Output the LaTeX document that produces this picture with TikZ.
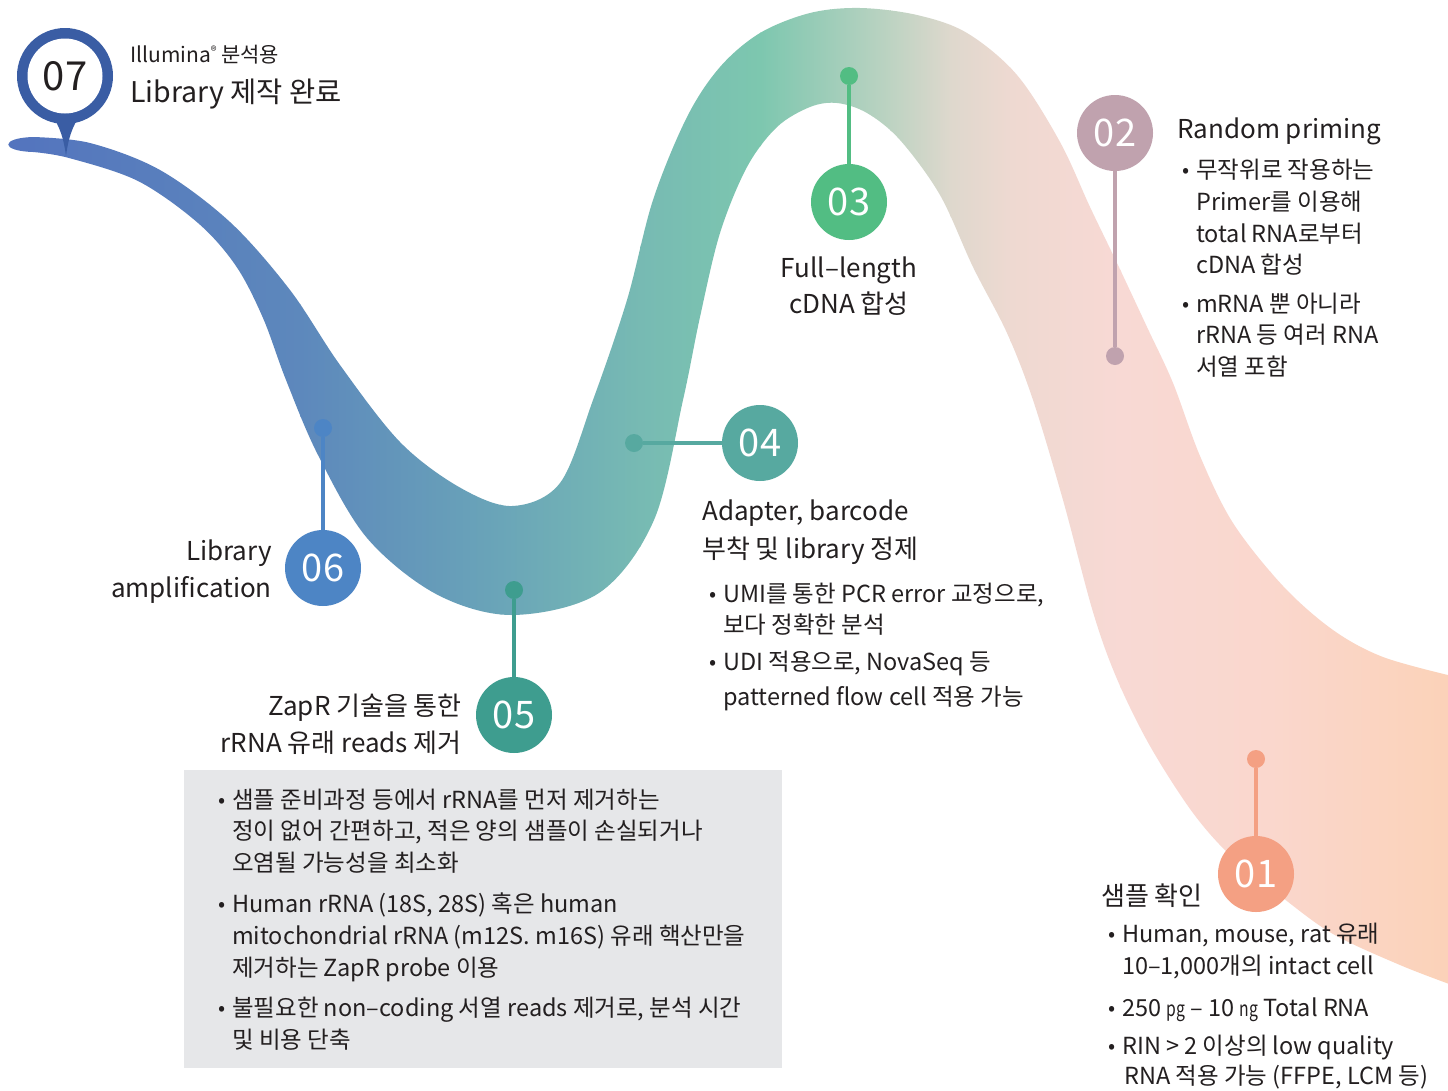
\documentclass[tikz,border=0pt]{standalone}
\usepackage{fontspec}
\setmainfont{Noto Sans CJK KR}
\definecolor{txt}{HTML}{231F20}
\definecolor{g0}{HTML}{5373BE}
\definecolor{g1}{HTML}{5D88BC}
\definecolor{g2}{HTML}{6AA5B8}
\definecolor{g3}{HTML}{77BAB3}
\definecolor{g4}{HTML}{7DC7AF}
\definecolor{g5}{HTML}{9FCDB9}
\definecolor{g6}{HTML}{BDD3C2}
\definecolor{g7}{HTML}{DED8CD}
\definecolor{g8}{HTML}{EED9D1}
\definecolor{g9}{HTML}{F8D9D4}
\definecolor{g10}{HTML}{FAD7CD}
\definecolor{g11}{HTML}{FBD2B8}
\definecolor{c07}{HTML}{3A5DA4}
\definecolor{c06}{HTML}{4D85C5}
\definecolor{c05}{HTML}{3E9D8F}
\definecolor{c04}{HTML}{57A9A0}
\definecolor{c03}{HTML}{52BD83}
\definecolor{c02}{HTML}{C0A2AE}
\definecolor{c01}{HTML}{F4A083}
\definecolor{boxgray}{HTML}{E6E7E9}
\newcommand{\bul}{\makebox[14pt][l]{\fontsize{21}{21}\selectfont\raisebox{0.5pt}{•}}}
\newcommand{\unitsm}[1]{\scalebox{0.75}[1]{\fontsize{21}{21}\selectfont #1}}
\begin{document}
\begin{tikzpicture}[x=1pt,y=-1pt,
  stepcircle/.style={circle, minimum size=76pt, inner sep=0pt, text=white, font=\fontsize{38}{38}\selectfont},
  stepdot/.style={circle, minimum size=18pt, inner sep=0pt},
  conn/.style={line width=3.5pt},
  head/.style={font=\fontsize{26}{30}\selectfont, text=txt, inner sep=0pt},
  body/.style={font=\fontsize{23.5}{27}\selectfont, text=txt, inner sep=0pt},
  small/.style={font=\fontsize{21}{24}\selectfont, text=txt, inner sep=0pt},
  big/.style={font=\fontsize{28.5}{32}\selectfont, text=txt, inner sep=0pt}]
\useasboundingbox (0,0) rectangle (1448,1090);
\fill[white] (0,0) rectangle (1448,1090);

% ribbon
\begin{scope}
\clip plot[smooth,tension=0.55] coordinates {(33,137) (90,143) (160,170) (230,222) (290,290) (340,365) (400,442) (459,487) (512,506) (560,483) (593,400) (627,300) (653,200) (687,117) (720,67) (760,33) (810,13) (860,8) (917,15) (967,33) (1017,75) (1060,142) (1090,207) (1117,263) (1147,327) (1173,383) (1200,456) (1233,523) (1283,586) (1333,630) (1383,657) (1452,676)}
 -- plot[smooth,tension=0.55] coordinates {(1452,985) (1400,965) (1333,934) (1283,898) (1233,858) (1193,813) (1150,746) (1117,679) (1093,612) (1063,500) (1033,400) (1007,333) (973,267) (940,195) (900,140) (867,113) (837,103) (810,107) (777,127) (747,167) (720,233) (700,317) (683,400) (654,520) (599,593) (512,615) (436,594) (367,538) (318,455) (286,380) (263,318) (236,266) (198,223) (138,181) (69,158) (33,152)}
 .. controls (0,151) and (0,138) .. (33,137) -- cycle;
\shade[left color=g0,right color=g1] (-2,0) rectangle (301,1090);
\shade[left color=g1,right color=g2] (300,0) rectangle (501,1090);
\shade[left color=g2,right color=g3] (500,0) rectangle (641,1090);
\shade[left color=g3,right color=g4] (640,0) rectangle (761,1090);
\shade[left color=g4,right color=g5] (760,0) rectangle (831,1090);
\shade[left color=g5,right color=g6] (830,0) rectangle (891,1090);
\shade[left color=g6,right color=g7] (890,0) rectangle (951,1090);
\shade[left color=g7,right color=g8] (950,0) rectangle (1011,1090);
\shade[left color=g8,right color=g9] (1010,0) rectangle (1121,1090);
\shade[left color=g9,right color=g10] (1120,0) rectangle (1271,1090);
\shade[left color=g10,right color=g11] (1270,0) rectangle (1452,1090);
\end{scope}

% pin 07
\fill[c07] (51,114) .. controls (60,126) and (64,140) .. (66,156) .. controls (68,140) and (72,126) .. (81,114) -- cycle;
\node[circle, fill=c07, minimum size=96pt, inner sep=0pt] (pin07) at (65,76) {};
\node[circle, fill=white, minimum size=75pt, inner sep=0pt, text=txt, font=\fontsize{40}{40}\selectfont] (s07) at (65,76) {07};

% steps
\node[stepdot, fill=c06] (d06) at (323,428) {};
\node[stepcircle, fill=c06] (s06) at (323,568) {06};
\draw[conn, c06] (d06) -- (s06);
\node[stepdot, fill=c05] (d05) at (514,590) {};
\node[stepcircle, fill=c05] (s05) at (514,715) {05};
\draw[conn, c05] (d05) -- (s05);
\node[stepdot, fill=c04] (d04) at (634,443) {};
\node[stepcircle, fill=c04] (s04) at (760,443) {04};
\draw[conn, c04] (d04) -- (s04);
\node[stepdot, fill=c03] (d03) at (849,76) {};
\node[stepcircle, fill=c03] (s03) at (849,202) {03};
\draw[conn, c03] (d03) -- (s03);
\node[stepcircle, fill=c02] (s02) at (1115,133) {02};
\node[stepdot, fill=c02] (d02) at (1115,356) {};
\draw[conn, c02] (s02) -- (d02);
\node[stepdot, fill=c01] (d01) at (1256,759) {};
\node[stepcircle, fill=c01] (s01) at (1256,874) {01};
\draw[conn, c01] (d01) -- (s01);

% 07 text
\node[small, anchor=base west] (t7a) at (130,62) {Illumina\raisebox{7pt}{\fontsize{12}{12}\selectfont ®} 분석용};
\node[big, anchor=base west] (t7b) at (130,102) {Library 제작 완료};

% 02 text
\node[head, anchor=base west] (t2h) at (1177,138) {Random priming};
\node[body, anchor=base west] (t2a) at (1182,178) {\bul 무작위로 작용하는};
\node[body, anchor=base west] (t2b) at (1196,210) {Primer를 이용해};
\node[body, anchor=base west] (t2c) at (1196,242) {total RNA로부터};
\node[body, anchor=base west] (t2d) at (1196,273) {cDNA 합성};
\node[body, anchor=base west] (t2e) at (1182,312) {\bul mRNA 뿐 아니라};
\node[body, anchor=base west] (t2f) at (1196,343) {rRNA 등 여러 RNA};
\node[body, anchor=base west] (t2g) at (1196,375) {서열 포함};

% 03 text
\node[head, anchor=base] (t3a) at (849,277) {Full–length};
\node[head, anchor=base] (t3b) at (849,313) {cDNA 합성};

% 04 text
\node[head, anchor=base west] (t4a) at (702,520) {Adapter, barcode};
\node[head, anchor=base west] (t4b) at (702,558) {부착 및 library 정제};
\node[body, anchor=base west] (t4c) at (709,602) {\bul UMI를 통한 PCR error 교정으로,};
\node[body, anchor=base west] (t4d) at (723,633) {보다 정확한 분석};
\node[body, anchor=base west] (t4e) at (709,670) {\bul UDI 적용으로, NovaSeq 등};
\node[body, anchor=base west] (t4f) at (723,705) {patterned flow cell 적용 가능};

% 06 text
\node[head, anchor=base east] (t6a) at (272,560) {Library};
\node[head, anchor=base east] (t6b) at (272,597) {amplification};

% 05 text
\node[head, anchor=base east] (t5a) at (462,715) {ZapR 기술을 통한};
\node[head, anchor=base east] (t5b) at (462,752) {rRNA 유래 reads 제거};

% gray box
\node[fill=boxgray, minimum width=598pt, minimum height=298pt, inner sep=0pt, anchor=north west] (gbox) at (184,770) {};
\node[body, anchor=base west] (g1) at (218,808) {\bul 샘플 준비과정 등에서 rRNA를 먼저 제거하는};
\node[body, anchor=base west] (g2) at (232,839) {정이 없어 간편하고, 적은 양의 샘플이 손실되거나};
\node[body, anchor=base west] (g3) at (232,871) {오염될 가능성을 최소화};
\node[body, anchor=base west] (g4) at (218,912) {\bul Human rRNA (18S, 28S) 혹은 human};
\node[body, anchor=base west] (g5) at (232,944) {mitochondrial rRNA (m12S. m16S) 유래 핵산만을};
\node[body, anchor=base west] (g6) at (232,976) {제거하는 ZapR probe 이용};
\node[body, anchor=base west] (g7) at (218,1016) {\bul 불필요한 non–coding 서열 reads 제거로, 분석 시간};
\node[body, anchor=base west] (g8) at (232,1048) {및 비용 단축};

% 01 text
\node[head, anchor=base west] (t1h) at (1101,905) {샘플 확인};
\node[body, anchor=base west] (t1a) at (1108,942) {\bul Human, mouse, rat 유래};
\node[body, anchor=base west] (t1b) at (1122,974) {10–1,000개의 intact cell};
\node[body, anchor=base west] (t1c) at (1108,1016) {\bul 250 \unitsm{pg} – 10 \unitsm{ng} Total RNA};
\node[body, anchor=base west] (t1d) at (1108,1054) {\bul RIN > 2 이상의 low quality};
\node[body, anchor=base west] (t1e) at (1124,1084) {RNA 적용 가능 (FFPE, LCM 등)};
\end{tikzpicture}
\end{document}
